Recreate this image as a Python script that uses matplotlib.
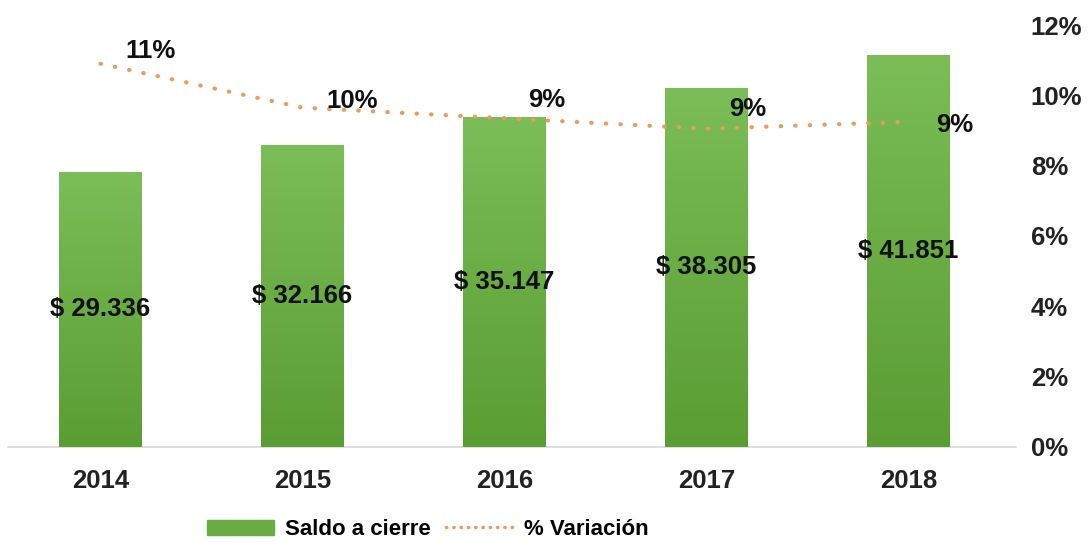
import numpy as np
import matplotlib.pyplot as plt
from matplotlib.patches import Patch
from matplotlib.lines import Line2D
from matplotlib.colors import LinearSegmentedColormap

# Data
years = ["2014", "2015", "2016", "2017", "2018"]
saldo = [29336, 32166, 35147, 38305, 41851]
saldo_labels = ["$ 29.336", "$ 32.166", "$ 35.147", "$ 38.305", "$ 41.851"]
variacion = [10.9, 9.65, 9.35, 9.05, 9.25]

plt.rcParams['font.family'] = ['Liberation Sans', 'DejaVu Sans']
plt.rcParams['font.weight'] = 'bold'

fig = plt.figure(figsize=(10.92, 5.45), dpi=100)
ax = fig.add_axes([0.007, 0.18, 0.923, 0.774])
x = np.arange(len(years))

bars = ax.bar(x, saldo, width=0.41, color='#68AC42', zorder=2)

# vertical green gradient on every bar
grad = np.linspace(0, 1, 256).reshape(-1, 1)
cmap = LinearSegmentedColormap.from_list('g', ['#5A9D33', '#7BBD56'])
for b in bars:
    x0, y0 = b.get_x(), b.get_y()
    im = ax.imshow(grad, extent=[x0, x0 + b.get_width(), y0, y0 + b.get_height()],
                   origin='lower', cmap=cmap, aspect='auto', zorder=3)
    im.set_clip_path(b)

for xi, v, lab in zip(x, saldo, saldo_labels):
    ax.text(xi, v / 2, lab, ha='center', va='center', fontsize=18.5,
            fontweight='bold', color='#111111', zorder=5)

ax.set_xlim(-0.46, 4.53)
ax.set_ylim(0, 45000)
ax.set_yticks([])
for s in ['top', 'left', 'right']:
    ax.spines[s].set_visible(False)
ax.spines['bottom'].set_color('#D9D9D9')
ax.spines['bottom'].set_linewidth(1.2)
ax.set_xticks(x)
ax.set_xticklabels(years, fontsize=18.5, fontweight='bold', color='#222222')
ax.tick_params(axis='x', length=0, pad=16)

ax2 = ax.twinx()
ax2.plot(x, variacion, color='#EE9A5A', lw=3, linestyle=(0, (0.1, 3.4)),
         dash_capstyle='round', zorder=4)
ax2.set_ylim(0, 12)
ax2.set_yticks(range(0, 13, 2))
ax2.set_yticklabels([f"{t}%" for t in range(0, 13, 2)], fontsize=18.5,
                    fontweight='bold', color='#222222')
ax2.tick_params(axis='y', length=0, pad=11)
for s in ax2.spines.values():
    s.set_visible(False)

offsets = [(36, 9), (36, 5), (30, 13), (30, 14), (33, -2)]
for xi, v, off in zip(x, variacion, offsets):
    ax2.annotate(f"{round(v):.0f}%", (xi, v), xytext=off, textcoords='offset points',
                 ha='center', va='center', fontsize=18.5, fontweight='bold',
                 color='#111111', zorder=6)

handles = [Patch(color='#68AC42', label='Saldo a cierre'),
           Line2D([], [], color='#EE9A5A', lw=2.5, linestyle=(0, (0.1, 2.0)),
                  dash_capstyle='round', label='% Variación')]
fig.legend(handles=handles, loc='center', bbox_to_anchor=(0.392, 0.028), ncol=2,
           frameon=False, fontsize=16, handlelength=3.0, handleheight=0.7,
           columnspacing=0.7, handletextpad=0.5)

fig.savefig('out.png', dpi=100)
